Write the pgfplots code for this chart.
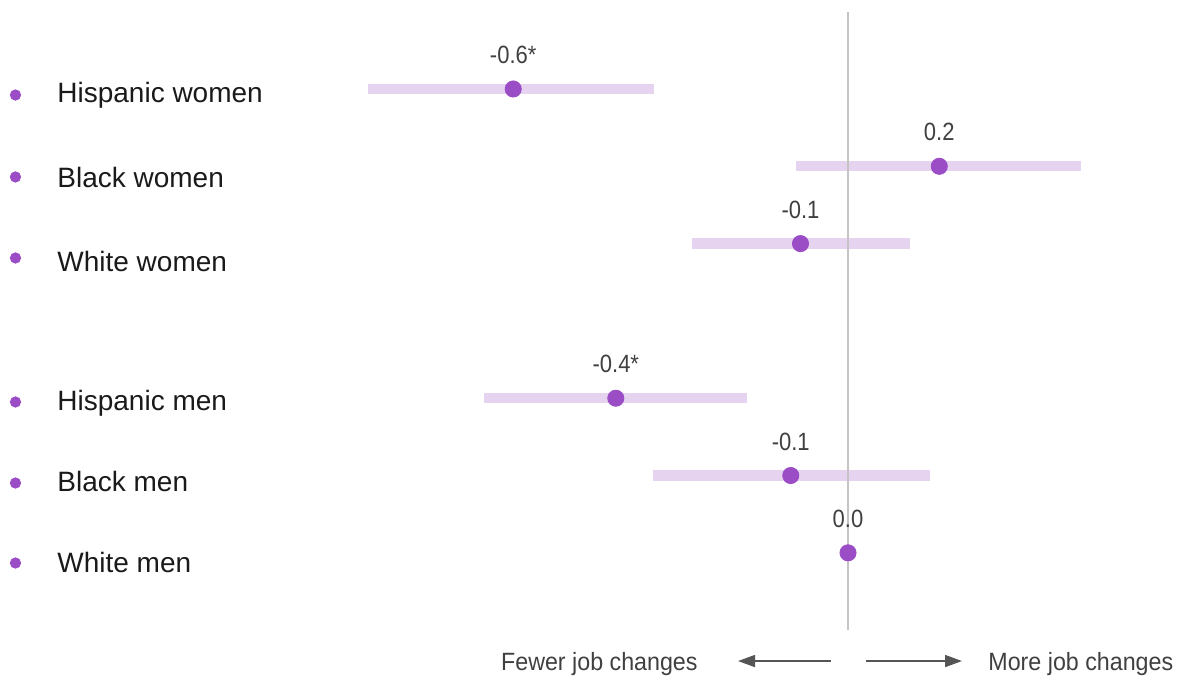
\documentclass[border=0pt]{standalone}
\usepackage{pgfplots}
\pgfplotsset{compat=1.18}
\usepackage{pgfplotstable}
\usepackage{fontspec}
\setmainfont{Liberation Sans}
\newfontfamily\valfont[FakeStretch=0.88]{Liberation Sans}
\newfontfamily\botfont[FakeStretch=0.93]{Liberation Sans}
\usetikzlibrary{arrows.meta}
\definecolor{dotc}{HTML}{9B4DC6}
\definecolor{barc}{HTML}{E5D3EF}
\definecolor{valc}{HTML}{404040}
\definecolor{labc}{HTML}{1A1A1A}
\definecolor{zeroc}{HTML}{C4C4C4}
\definecolor{arrc}{HTML}{555555}

\pgfplotstableread{
y v lo hi lab
6 -0.620 -0.889 -0.359 -0.6*
5 0.169 -0.096 0.431 0.2
4 -0.088 -0.289 0.115 -0.1
2 -0.430 -0.674 -0.187 -0.4*
1 -0.106 -0.362 0.152 -0.1
0 0.000 0.000 0.000 0.0
}\datatab

\begin{document}
\begin{tikzpicture}
\begin{axis}[
  scale only axis, width=590pt, height=338.5pt,
  xmin=-1.57037, xmax=0.61481, ymin=-1.6067, ymax=7.1514,
  hide axis, clip=false]
\path (rel axis cs:0,0) rectangle (rel axis cs:1,1);
% error bars
\addplot[draw=none, mark=none,
  error bars/.cd, x dir=both, x explicit,
  error bar style={draw=barc, line width=5.2pt}, error mark=none]
  table[x=v, y=y, x error plus expr=\thisrow{hi}-\thisrow{v},
        x error minus expr=\thisrow{v}-\thisrow{lo}] {\datatab};
% zero line
\draw[zeroc, line width=0.6pt] (axis cs:0,-1) -- (axis cs:0,7);
% dots with value labels
\addplot[only marks, mark=*, mark size=4.05pt, color=dotc,
  mark options={draw=dotc, fill=dotc},
  nodes near coords, point meta=explicit symbolic,
  every node near coord/.append style={anchor=base, inner sep=0pt,
    yshift=12.7pt, text=valc, font=\valfont\fontsize{12.5}{15}\selectfont}]
  table[x=v, y=y, meta=lab] {\datatab};
% bullets
\addplot[only marks, mark=*, mark size=2.6pt, color=dotc, mark options={draw=dotc, fill=dotc}]
  coordinates {(-1.5417,5.922) (-1.5417,4.862) (-1.5417,3.814)
               (-1.5417,1.951) (-1.5417,0.903) (-1.5417,-0.132)};
% category labels
\begin{scope}[every node/.style={anchor=base west, inner sep=0pt, text=labc,
    font=\fontsize{14}{16}\selectfont}]
\node at (axis cs:-1.4648,5.819) {Hispanic women};
\node at (axis cs:-1.4648,4.732) {Black women};
\node at (axis cs:-1.4648,3.645) {White women};
\node at (axis cs:-1.4648,1.847) {Hispanic men};
\node at (axis cs:-1.4648,0.787) {Black men};
\node at (axis cs:-1.4648,-0.261) {White men};
\end{scope}
% bottom annotations
\node[anchor=base east, inner sep=0pt, text=valc, font=\botfont\fontsize{12.5}{15}\selectfont]
  at (axis cs:-0.2778,-1.516) {Fewer job changes};
\node[anchor=base west, inner sep=0pt, text=valc, font=\botfont\fontsize{12.5}{15}\selectfont]
  at (axis cs:0.2593,-1.516) {More job changes};
\draw[arrc, line width=0.8pt, -{Triangle[length=8.5pt, width=6pt]}]
  (axis cs:-0.0315,-1.400) -- (axis cs:-0.2037,-1.400);
\draw[arrc, line width=0.8pt, -{Triangle[length=8.5pt, width=6pt]}]
  (axis cs:0.0333,-1.400) -- (axis cs:0.2111,-1.400);
\end{axis}
\end{tikzpicture}
\end{document}
